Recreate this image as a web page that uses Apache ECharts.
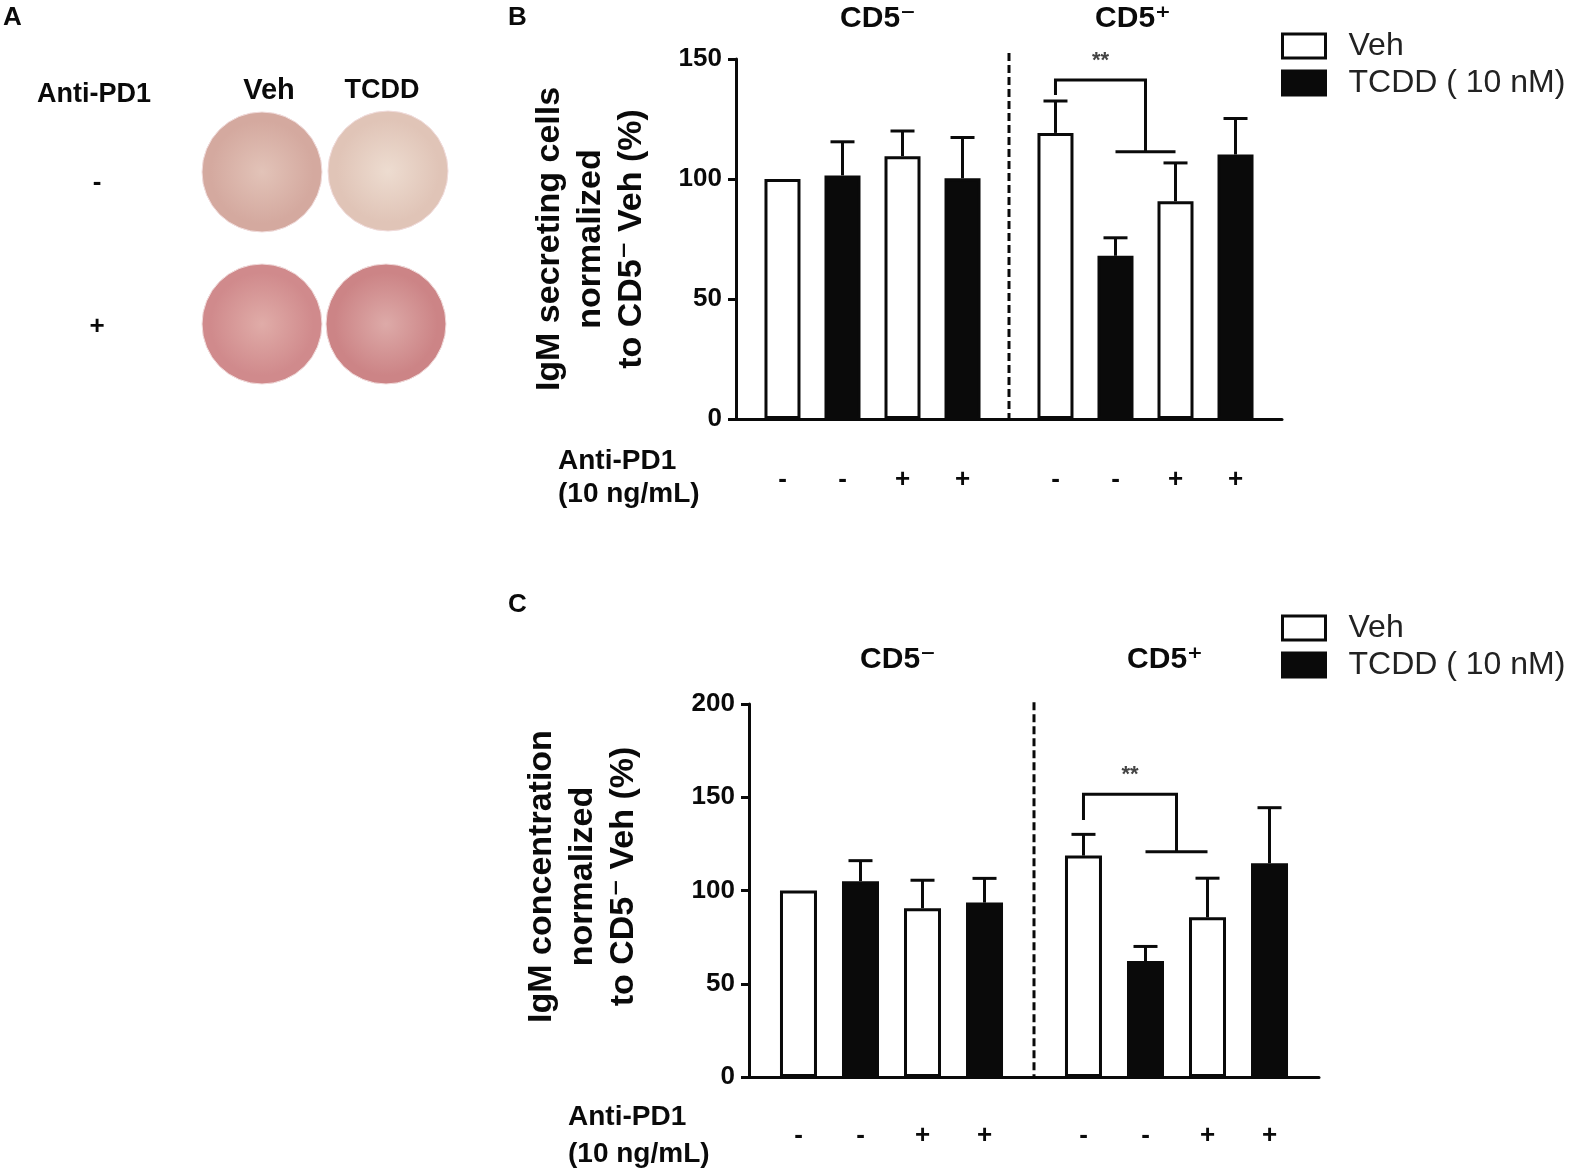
<!DOCTYPE html>
<html>
<head>
<meta charset="utf-8">
<script src="https://cdn.jsdelivr.net/npm/echarts@6/dist/echarts.min.js"></script>
<style>
  html, body { margin: 0; padding: 0; background: #fff; }
  #chart { width: 1571px; height: 1176px; }
</style>
</head>
<body>
<div id="chart"></div>
<script>
// groups on the x axis, and the four bars inside each group
const groups = ['CD5-', 'CD5+'];
const treatments = ['Veh', 'TCDD ( 10 nM)', 'Veh', 'TCDD ( 10 nM)'];
const pd1Signs = ['-', '-', '+', '+'];

// panel B: IgM secreting cells (% of CD5- Veh), [group][bar]
const secretingMean = [[100, 101.5, 109.5, 100.3], [119.2, 68, 90.7, 110.2]];
const secretingSem = [[0, 14, 10.5, 17], [13.3, 7.5, 16, 15]];

// panel C: IgM concentration (% of CD5- Veh), [group][bar]
const concMean = [[100, 105, 90.5, 93.5], [118.7, 62.2, 85.6, 114.6]];
const concSem = [[0, 11, 15, 13], [11.4, 7.8, 21, 29.8]];

// significance brackets: [group, leftBar, rightFromBar, rightToBar, leftBottom, top, rightBottom]
const bracketB = [1, 0, 1, 2, 135, 141.3, 111.4];
const bracketC = [1, 0, 1, 2, 137.8, 151.6, 120.8];
const sigLabel = '**';

// dashed divider top (axis value)
const dividerTopB = 152.5;
const dividerTopC = 201;

const yTicksB = { min: 0, max: 150, interval: 50 };
const yTicksC = { min: 0, max: 200, interval: 50 };

const FONT = '"Liberation Sans", Arial, "DejaVu Sans", sans-serif';
const INK = '#0a0a0a';

const chart = echarts.init(document.getElementById('chart'));

const BW_B = 36, GAP_B = 0.667;
const BW_C = 37, GAP_C = 0.676;

function barSeries(means, gridIdx, bw, gap, signDrop) {
    return treatments.map(function (name, s) {
        const isVeh = s % 2 === 0;
        return {
            type: 'bar',
            name: name,
            xAxisIndex: gridIdx,
            yAxisIndex: gridIdx,
            barWidth: bw,
            barGap: (gap * 100) + '%',
            data: groups.map(function (g, gi) { return means[gi][s]; }),
            itemStyle: {
                color: isVeh ? '#ffffff' : INK,
                borderColor: INK,
                borderWidth: 3
            },
            label: {
                show: true,
                position: 'bottom',
                distance: 0,
                offset: [0, signDrop],
                formatter: function () { return pd1Signs[s]; },
                fontFamily: FONT,
                fontWeight: 'bold',
                fontSize: 26,
                color: INK
            },
            emphasis: { disabled: true },
            z: 3
        };
    });
}

function errorSeries(means, sems, gridIdx, bw, gap) {
    const data = [];
    groups.forEach(function (g, gi) {
        treatments.forEach(function (t, s) {
            data.push([gi, s, means[gi][s], sems[gi][s]]);
        });
    });
    return {
        type: 'custom',
        xAxisIndex: gridIdx,
        yAxisIndex: gridIdx,
        data: data,
        encode: { x: 0, y: 2 },
        z: 2,
        renderItem: function (params, api) {
            const gi = api.value(0), s = api.value(1), m = api.value(2), e = api.value(3);
            if (!e) return null;
            const base = api.coord([gi, m]);
            const x = base[0] + (s - 1.5) * bw * (1 + gap);
            const yTop = api.coord([gi, m + e])[1];
            const st = { stroke: INK, lineWidth: 3 };
            return {
                type: 'group',
                children: [
                    { type: 'line', shape: { x1: x, y1: base[1], x2: x, y2: yTop }, style: st },
                    { type: 'line', shape: { x1: x - 12, y1: yTop, x2: x + 12, y2: yTop }, style: st }
                ]
            };
        }
    };
}

function bracketSeries(br, gridIdx, bw, gap) {
    return {
        type: 'custom',
        xAxisIndex: gridIdx,
        yAxisIndex: gridIdx,
        data: [br],
        encode: { x: 0, y: 5 },
        z: 4,
        renderItem: function (params, api) {
            const gi = api.value(0);
            const step = bw * (1 + gap);
            const cx = api.coord([gi, 0])[0];
            const xl = cx + (api.value(1) - 1.5) * step;
            const xa = cx + (api.value(2) - 1.5) * step;
            const xb = cx + (api.value(3) - 1.5) * step;
            const xr = (xa + xb) / 2;
            const yl = api.coord([gi, api.value(4)])[1];
            const yt = api.coord([gi, api.value(5)])[1];
            const yr = api.coord([gi, api.value(6)])[1];
            const st = { stroke: INK, lineWidth: 3, fill: null };
            return {
                type: 'group',
                children: [
                    { type: 'polyline', shape: { points: [[xl, yl], [xl, yt], [xr, yt], [xr, yr]] }, style: st },
                    { type: 'line', shape: { x1: xa, y1: yr, x2: xb, y2: yr }, style: st },
                    {
                        type: 'text',
                        style: {
                            text: sigLabel, x: (xl + xr) / 2, y: yt - 8,
                            align: 'center', verticalAlign: 'bottom',
                            font: 'bold 22px ' + FONT, fill: '#444'
                        }
                    }
                ]
            };
        }
    };
}

function dividerSeries(top, gridIdx) {
    return {
        type: 'custom',
        xAxisIndex: gridIdx,
        yAxisIndex: gridIdx,
        data: [[0, top]],
        encode: { x: 0, y: 1 },
        z: 1,
        renderItem: function (params, api) {
            const x = (api.coord([0, 0])[0] + api.coord([1, 0])[0]) / 2;
            const y0 = api.coord([0, 0])[1];
            const y1 = api.coord([0, api.value(1)])[1];
            return {
                type: 'line',
                shape: { x1: x, y1: y1, x2: x, y2: y0 },
                style: { stroke: INK, lineWidth: 3, lineDash: [8, 4] }
            };
        }
    };
}

function xAxisFor(gridIdx) {
    return {
        type: 'category',
        gridIndex: gridIdx,
        data: groups,
        axisLine: { lineStyle: { color: INK, width: 3 } },
        axisTick: { alignWithLabel: true, length: 9, lineStyle: { color: INK, width: 3 } },
        axisLabel: { show: false },
        splitLine: { show: false }
    };
}

function yAxisFor(gridIdx, ticks, name, gap, shiftUp) {
    return {
        type: 'value',
        gridIndex: gridIdx,
        min: ticks.min,
        max: ticks.max,
        interval: ticks.interval,
        name: name,
        nameLocation: 'middle',
        nameRotate: 90,
        nameGap: gap,
        nameTextStyle: {
            fontFamily: FONT, fontWeight: 'bold', fontSize: 34, lineHeight: 41, color: INK,
            padding: [0, 0, 0, shiftUp * 2]
        },
        axisLine: { show: true, lineStyle: { color: INK, width: 3 } },
        axisTick: { show: true, length: 8, lineStyle: { color: INK, width: 3 } },
        axisLabel: { fontFamily: FONT, fontWeight: 'bold', fontSize: 26, color: INK, margin: 14 },
        splitLine: { show: false }
    };
}

function legendFor(top) {
    return {
        top: top,
        left: 1276,
        orient: 'vertical',
        icon: 'rect',
        itemWidth: 43,
        itemHeight: 24,
        itemGap: 5,
        selectedMode: false,
        data: ['Veh', 'TCDD ( 10 nM)'],
        itemStyle: { borderColor: INK, borderWidth: 3 },
        textStyle: { fontFamily: FONT, fontSize: 32, lineHeight: 32, color: '#222', padding: [0, 0, 0, 18] }
    };
}

function txt(text, x, y, size, weight, align) {
    return {
        type: 'text', x: x, y: y,
        style: {
            text: text, font: (weight || 'bold') + ' ' + size + 'px ' + FONT,
            fill: INK, align: align || 'left', verticalAlign: 'middle'
        }
    };
}

function well(cx, cy, inner, outer) {
    return {
        type: 'circle',
        shape: { cx: cx, cy: cy, r: 60 },
        style: {
            fill: { type: 'radial', x: 0.5, y: 0.5, r: 0.5,
                colorStops: [{ offset: 0, color: inner }, { offset: 0.85, color: outer }, { offset: 1, color: outer }] },
            stroke: '#f1dcdc', lineWidth: 1
        }
    };
}

const option = {
    animation: false,
    backgroundColor: '#ffffff',
    grid: [
        { left: 736, top: 59, width: 546, height: 360 },
        { left: 749, top: 704, width: 570, height: 373 }
    ],
    xAxis: [xAxisFor(0), xAxisFor(1)],
    yAxis: [
        yAxisFor(0, yTicksB, 'IgM secreting cells\nnormalized\nto CD5\u207B Veh (%)', 84, 0),
        yAxisFor(1, yTicksC, 'IgM concentration\nnormalized\nto CD5\u207B Veh (%)', 105, 14)
    ],
    legend: [legendFor(25), legendFor(607)],
    series: [].concat(
        barSeries(secretingMean, 0, BW_B, GAP_B, 48),
        [errorSeries(secretingMean, secretingSem, 0, BW_B, GAP_B),
         bracketSeries(bracketB, 0, BW_B, GAP_B),
         dividerSeries(dividerTopB, 0)],
        barSeries(concMean, 1, BW_C, GAP_C, 46),
        [errorSeries(concMean, concSem, 1, BW_C, GAP_C),
         bracketSeries(bracketC, 1, BW_C, GAP_C),
         dividerSeries(dividerTopC, 1)]
    ),
    graphic: [
        // panel letters
        txt('A', 3, 18, 26), txt('B', 508, 18, 26), txt('C', 508, 605, 26),
        // panel A: ELISPOT wells
        txt('Anti-PD1', 37, 95, 27), txt('Veh', 269, 91, 29, 'bold', 'center'), txt('TCDD', 382, 91, 27, 'bold', 'center'),
        txt('-', 97, 183, 26, 'bold', 'center'), txt('+', 97, 327, 26, 'bold', 'center'),
        well(262, 172, '#e2c3b8', '#d4a99f'), well(388, 171, '#eddcd0', '#e0c4b7'),
        well(262, 324, '#e0aca8', '#d08a8c'), well(386, 324, '#ddaaa8', '#cc8486'),
        // group headers
        txt('CD5\u207B', 878, 19, 30, 'bold', 'center'), txt('CD5\u207A', 1133, 19, 30, 'bold', 'center'),
        txt('CD5\u207B', 898, 660, 30, 'bold', 'center'), txt('CD5\u207A', 1165, 660, 30, 'bold', 'center'),
        // x-axis row titles
        txt('Anti-PD1', 558, 461, 28), txt('(10 ng/mL)', 558, 494, 28),
        txt('Anti-PD1', 568, 1117, 28), txt('(10 ng/mL)', 568, 1154, 28)
    ]
};

chart.setOption(option);
</script>
</body>
</html>
